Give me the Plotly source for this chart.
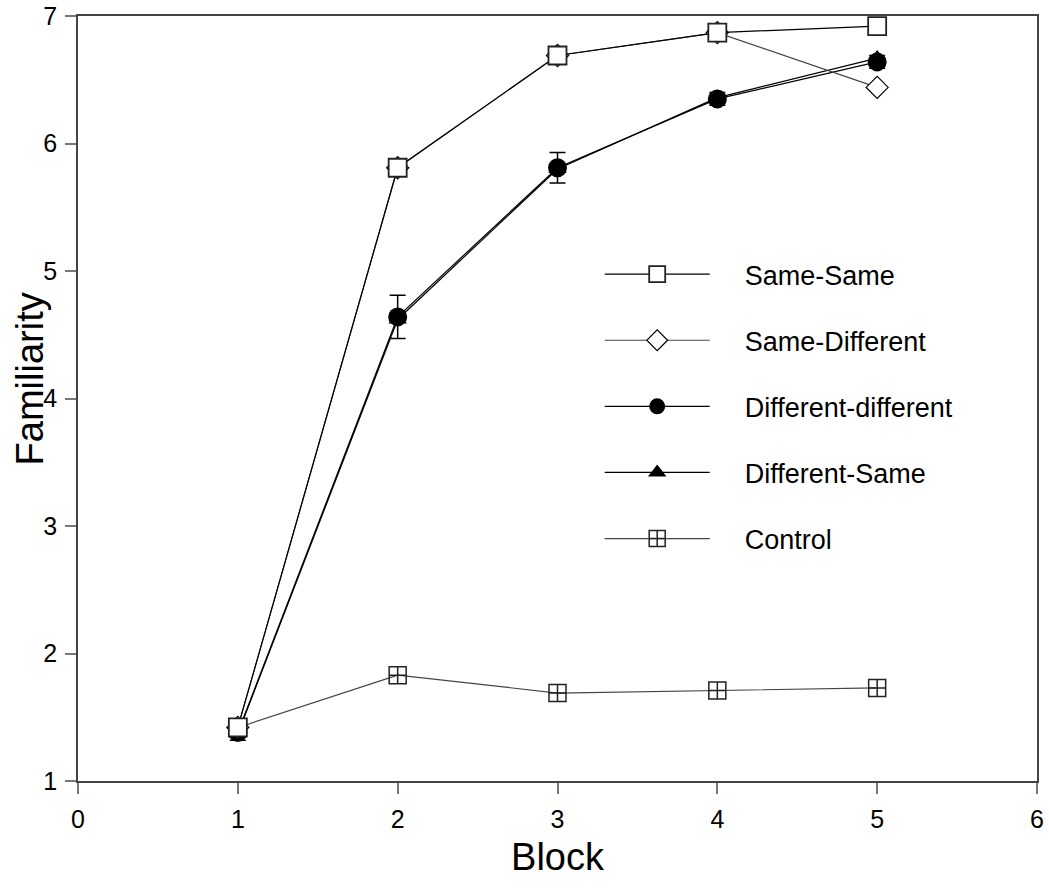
import plotly.graph_objects as go

blocks = [1, 2, 3, 4, 5]
same_same = [1.42, 5.81, 6.69, 6.87, 6.92]
same_diff = [1.42, 5.81, 6.69, 6.87, 6.44]
diff_diff = [1.38, 4.64, 5.81, 6.35, 6.64]
diff_diff_err = [0.06, 0.17, 0.12, 0.05, 0.05]
diff_same = [1.37, 4.62, 5.80, 6.36, 6.67]
control = [1.42, 1.83, 1.69, 1.71, 1.73]
x_ticks = [0, 1, 2, 3, 4, 5, 6]
y_ticks = [1, 2, 3, 4, 5, 6, 7]

font = "Liberation Sans, Arial, sans-serif"
pad = "\u00a0" * 4
fig = go.Figure()

fig.add_trace(go.Scatter(x=blocks, y=control, name=pad + "Control", mode="lines+markers",
    line=dict(color="#444", width=1.2),
    marker=dict(symbol="square-cross-open", size=17, color="#222", line=dict(width=1.5)),
    legendrank=5, legendgroup="g5"))
fig.add_trace(go.Scatter(x=blocks, y=diff_same, name=pad + "Different-Same", mode="lines+markers",
    line=dict(color="black", width=1.2),
    marker=dict(symbol="triangle-up", size=16, color="black"),
    legendrank=4, legendgroup="g4"))
fig.add_trace(go.Scatter(x=blocks, y=diff_diff, name=pad + "Different-different", mode="lines+markers",
    line=dict(color="black", width=1.2),
    marker=dict(symbol="circle", size=19, color="black"),
    error_y=dict(type="data", array=diff_diff_err, color="black", thickness=1.5, width=8),
    legendrank=3, legendgroup="g3"))
fig.add_trace(go.Scatter(x=blocks, y=same_diff, name=pad + "Same-Different", mode="lines+markers",
    line=dict(color="#444", width=1.2),
    marker=dict(symbol="diamond", size=17, color="white", line=dict(color="black", width=1.2)),
    legendrank=2, legendgroup="g2"))
fig.add_trace(go.Scatter(x=blocks, y=same_same, name=pad + "Same-Same", mode="lines+markers",
    line=dict(color="black", width=1.2),
    marker=dict(symbol="square", size=18, color="white", line=dict(color="#222", width=1.8)),
    legendrank=1, legendgroup="g1"))

tickfont = dict(size=25, color="black", family=font)
fig.update_layout(
    width=1049, height=892, plot_bgcolor="white", paper_bgcolor="white",
    margin=dict(l=78, r=12, t=16, b=111, autoexpand=False),
    font=dict(family=font, color="black", size=23),
    xaxis=dict(range=[0, 6], tickmode="array", tickvals=x_ticks, ticktext=[str(v) for v in x_ticks],
               showgrid=False, zeroline=False, ticks="outside", ticklen=11, tickwidth=1.8,
               tickcolor="#777", linecolor="#444", linewidth=1.6, mirror=True, showline=True,
               tickfont=tickfont, automargin=False, ticklabelstandoff=4,
               title=dict(text="Block", font=dict(size=38, family=font, color="black"), standoff=12)),
    yaxis=dict(range=[1, 7], tickmode="array", tickvals=y_ticks, ticktext=[str(v) for v in y_ticks],
               showgrid=False, zeroline=False, ticks="outside", ticklen=11, tickwidth=1.8,
               tickcolor="#777", linecolor="#444", linewidth=1.6, mirror=True, showline=True,
               tickfont=tickfont, automargin=False, ticklabelstandoff=3),
    annotations=[dict(text="Familiarity", xref="paper", yref="paper", x=-0.05, y=0.525,
                      xanchor="center", yanchor="middle", textangle=-90, showarrow=False,
                      font=dict(size=38, family=font, color="black"))],
    legend=dict(x=0.544, y=0.694, xanchor="left", yanchor="top", font=dict(size=27, family=font),
                tracegroupgap=28, bgcolor="rgba(0,0,0,0)", itemwidth=105, traceorder="grouped"),
    showlegend=True,
)

fig.write_html("out.html")
